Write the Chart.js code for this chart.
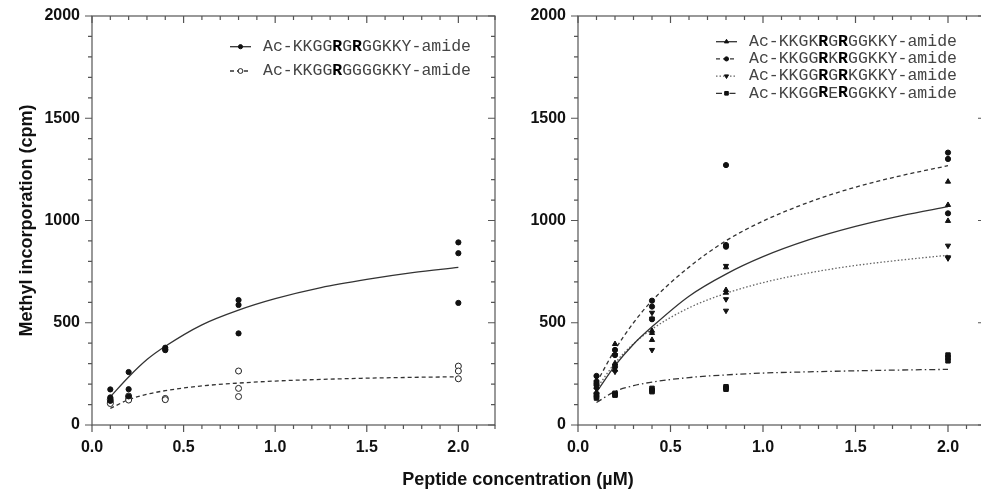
<!DOCTYPE html>
<html lang="en">
<head>
  <meta charset="UTF-8">
  <title>Methyl incorporation vs peptide concentration</title>
  <script src="https://cdn.jsdelivr.net/npm/chart.js"></script>
  <style>
    body {
      margin: 0;
      width: 981px;
      height: 493px;
      overflow: hidden;
      background: #fff;
      position: relative;
      font-family: 'Liberation Sans', Arial, sans-serif;
    }
    .panel {
      position: absolute;
      top: 0;
      width: 500px;
      height: 493px;
    }
    #leftPanel { left: 0; }
    #rightPanel { left: 490px; }
    .xtitle {
      position: absolute;
      left: 0;
      width: 1036px;
      top: 469px;
      text-align: center;
      font-weight: bold;
      font-size: 18px;
      color: #111;
    }
  </style>
</head>
<body>

  <div class="panel" id="leftPanel"><canvas id="leftChart"></canvas></div>
  <div class="panel" id="rightPanel"><canvas id="rightChart"></canvas></div>
  <div class="xtitle">Peptide concentration (µM)</div>

  <script>
    // peptide concentrations (uM) where replicates were measured
    const conc = [0.1, 0.2, 0.4, 0.8, 2.0];

    // left panel replicates (cpm), one array per concentration
    const rgrValues = [[174, 135, 118], [259, 175, 140], [378, 370, 366], [611, 587, 448], [893, 840, 597]];
    const rggValues = [[125, 112, 105], [142, 130, 122], [130, 124], [264, 179, 139], [288, 264, 226]];

    // right panel replicates (cpm)
    const kgkValues = [[220, 185, 160], [396, 302, 270], [461, 416, 450], [771, 660, 647], [1190, 1076, 998]];
    const rkrValues = [[240, 205, 195], [367, 342, 285], [608, 579, 517], [1271, 880, 872], [1332, 1301, 1035]];
    const rgrkValues = [[210, 175, 150], [342, 290, 261], [549, 367, 520], [778, 615, 559], [877, 820, 815]];
    const rerValues = [[150, 140, 132], [155, 150, 146], [179, 170, 163], [187, 181, 175], [342, 330, 314]];

    // fitted curves
    const curveConc = [0.1, 0.2, 0.3, 0.4, 0.6, 0.8, 1.0, 1.25, 1.5, 1.75, 2.0];
    const rgrFit = [138, 235, 320, 385, 490, 562, 618, 672, 712, 745, 771];
    const rggFit = [81, 124, 150, 168, 191, 205, 215, 223, 229, 233, 236];
    const kgkFit = [160, 290, 395, 480, 630, 738, 823, 906, 971, 1024, 1068];
    const rkrFit = [206, 368, 500, 608, 772, 901, 997, 1090, 1163, 1220, 1268];
    const rgrkFit = [178, 303, 397, 469, 573, 644, 696, 744, 780, 807, 830];
    const rerFit = [110, 164, 192, 210, 232, 245, 254, 260, 265, 269, 272];

    // axis ticks
    const xMajor = 0.5, xMinor = 0.1, xMax = 2.2;
    const yMajor = 500, yMinor = 100, yMax = 2000;

    Chart.defaults.font.family = "'Liberation Sans', Arial, sans-serif";
    Chart.defaults.color = '#111';

    function isMajor(v, step) {
      return Math.abs(v / step - Math.round(v / step)) < 1e-6;
    }

    function toPoints(values) {
      const pts = [];
      values.forEach((reps, i) => reps.forEach(v => pts.push({ x: conc[i], y: v })));
      return pts;
    }

    function toCurve(fit) {
      return curveConc.map((c, i) => ({ x: c, y: fit[i] }));
    }

    function pointSet(values, style, extra) {
      return Object.assign({
        data: toPoints(values),
        showLine: false,
        pointStyle: style,
        pointRadius: 2.6,
        pointBackgroundColor: '#111',
        pointBorderColor: '#111',
        pointBorderWidth: 1,
        order: 0
      }, extra || {});
    }

    function curveSet(fit, dash, color) {
      return {
        data: toCurve(fit),
        showLine: true,
        pointRadius: 0,
        borderColor: color || '#333',
        borderWidth: 1.3,
        borderDash: dash,
        cubicInterpolationMode: 'monotone',
        order: 1
      };
    }

    // no label overhang padding, the layout padding decides the plot box
    function noPadding(s) {
      s.paddingLeft = 0;
      s.paddingRight = 0;
      s.paddingTop = 0;
      s.paddingBottom = 0;
    }

    // box round the plot area, ticks outside on bottom/left, inside on top/right
    const framePlugin = {
      id: 'frame',
      afterDraw(chart) {
        const { ctx, chartArea: a, scales: { x, y } } = chart;
        ctx.save();
        ctx.strokeStyle = '#555';
        ctx.lineWidth = 1.2;
        ctx.strokeRect(a.left, a.top, a.right - a.left, a.bottom - a.top);
        ctx.beginPath();
        x.ticks.forEach(t => {
          const px = x.getPixelForValue(t.value);
          const len = isMajor(t.value, xMajor) ? 7 : 4;
          ctx.moveTo(px, a.bottom); ctx.lineTo(px, a.bottom + len);
          ctx.moveTo(px, a.top); ctx.lineTo(px, a.top + len);
        });
        y.ticks.forEach(t => {
          const py = y.getPixelForValue(t.value);
          const len = isMajor(t.value, yMajor) ? 7 : 4;
          ctx.moveTo(a.left, py); ctx.lineTo(a.left - len, py);
          ctx.moveTo(a.right, py); ctx.lineTo(a.right - len, py);
        });
        ctx.stroke();
        ctx.restore();
      }
    };

    // legend with bold residues in the sequence
    const seqLegend = {
      id: 'seqLegend',
      afterDraw(chart, args, opts) {
        const ctx = chart.ctx;
        const area = chart.chartArea;
        ctx.save();
        opts.entries.forEach((entry, i) => {
          const line = chart.data.datasets[entry.line];
          const pts = chart.data.datasets[entry.points];
          const y = area.top + opts.top + i * opts.rowGap;
          const x0 = area.left + opts.left;
          ctx.strokeStyle = line.borderColor;
          ctx.lineWidth = line.borderWidth;
          ctx.setLineDash(line.borderDash || []);
          ctx.beginPath();
          ctx.moveTo(x0, y);
          ctx.lineTo(x0 + 21, y);
          ctx.stroke();
          ctx.setLineDash([]);
          ctx.fillStyle = pts.pointBackgroundColor;
          ctx.strokeStyle = pts.pointBorderColor;
          ctx.lineWidth = 1;
          Chart.helpers.drawPoint(ctx, {
            pointStyle: pts.pointStyle,
            rotation: pts.pointRotation || 0,
            radius: pts.pointRadius * 0.8,
            borderWidth: 1
          }, x0 + 10.5, y);
          let tx = x0 + 33;
          ctx.textBaseline = 'middle';
          entry.text.forEach(([s, bold]) => {
            ctx.font = (bold ? 'bold ' : '') + '16.5px "Liberation Mono", monospace';
            ctx.fillStyle = bold ? '#000' : '#444';
            ctx.fillText(s, tx, y);
            tx += ctx.measureText(s).width;
          });
        });
        ctx.restore();
      }
    };

    function makeScales(yWidth, withTitle) {
      return {
        x: {
          type: 'linear',
          min: 0,
          max: xMax,
          grid: { display: false },
          border: { display: false },
          ticks: {
            stepSize: xMinor,
            autoSkip: false,
            maxRotation: 0,
            padding: 5,
            font: { size: 16, weight: 'bold' },
            callback: v => isMajor(v, xMajor) ? v.toFixed(1) : ''
          },
          afterFit: s => { s.height = 68; noPadding(s); }
        },
        y: {
          min: 0,
          max: yMax,
          grid: { display: false },
          border: { display: false },
          ticks: {
            stepSize: yMinor,
            autoSkip: false,
            padding: 4,
            font: { size: 16, weight: 'bold' },
            callback: v => isMajor(v, yMajor) ? v : ''
          },
          title: {
            display: withTitle,
            text: 'Methyl incorporation (cpm)',
            font: { size: 18, weight: 'bold' },
            padding: { top: 16, bottom: 0 }
          },
          afterFit: s => { s.width = yWidth; noPadding(s); }
        }
      };
    }

    const baseOptions = {
      responsive: true,
      maintainAspectRatio: false,
      animation: false,
      events: []
    };

    // left panel
    new Chart(document.getElementById('leftChart'), {
      type: 'scatter',
      data: {
        datasets: [
          pointSet(rgrValues, 'circle'),
          pointSet(rggValues, 'circle', { pointRadius: 3, pointBackgroundColor: '#fff', pointBorderColor: '#222' }),
          curveSet(rgrFit, []),
          curveSet(rggFit, [4, 3])
        ]
      },
      options: Object.assign({}, baseOptions, {
        layout: { padding: { top: 16, right: 1, left: 0, bottom: 0 } },
        scales: makeScales(92, true),
        plugins: {
          legend: { display: false },
          tooltip: { enabled: false },
          seqLegend: {
            left: 138, top: 30.7, rowGap: 24.3,
            entries: [
              { line: 2, points: 0, text: [['Ac-KKGG', 0], ['R', 1], ['G', 0], ['R', 1], ['GGKKY-amide', 0]] },
              { line: 3, points: 1, text: [['Ac-KKGG', 0], ['R', 1], ['GGGGKKY-amide', 0]] }
            ]
          }
        }
      }),
      plugins: [framePlugin, seqLegend]
    });

    // right panel
    new Chart(document.getElementById('rightChart'), {
      type: 'scatter',
      data: {
        datasets: [
          pointSet(kgkValues, 'triangle', { pointRadius: 3 }),
          pointSet(rkrValues, 'circle'),
          pointSet(rgrkValues, 'triangle', { pointRadius: 3, pointRotation: 180 }),
          pointSet(rerValues, 'rect', { pointRadius: 3.2 }),
          curveSet(kgkFit, []),
          curveSet(rkrFit, [4, 3]),
          curveSet(rgrkFit, [1.5, 2], '#666'),
          curveSet(rerFit, [6, 3, 1.5, 3])
        ]
      },
      options: Object.assign({}, baseOptions, {
        layout: { padding: { top: 16, right: 5, left: 0, bottom: 0 } },
        scales: makeScales(88, false),
        plugins: {
          legend: { display: false },
          tooltip: { enabled: false },
          seqLegend: {
            left: 138, top: 25.7, rowGap: 17.2,
            entries: [
              { line: 4, points: 0, text: [['Ac-KKGK', 0], ['R', 1], ['G', 0], ['R', 1], ['GGKKY-amide', 0]] },
              { line: 5, points: 1, text: [['Ac-KKGG', 0], ['R', 1], ['K', 0], ['R', 1], ['GGKKY-amide', 0]] },
              { line: 6, points: 2, text: [['Ac-KKGG', 0], ['R', 1], ['G', 0], ['R', 1], ['KGKKY-amide', 0]] },
              { line: 7, points: 3, text: [['Ac-KKGG', 0], ['R', 1], ['E', 0], ['R', 1], ['GGKKY-amide', 0]] }
            ]
          }
        }
      }),
      plugins: [framePlugin, seqLegend]
    });
  </script>

</body>
</html>
